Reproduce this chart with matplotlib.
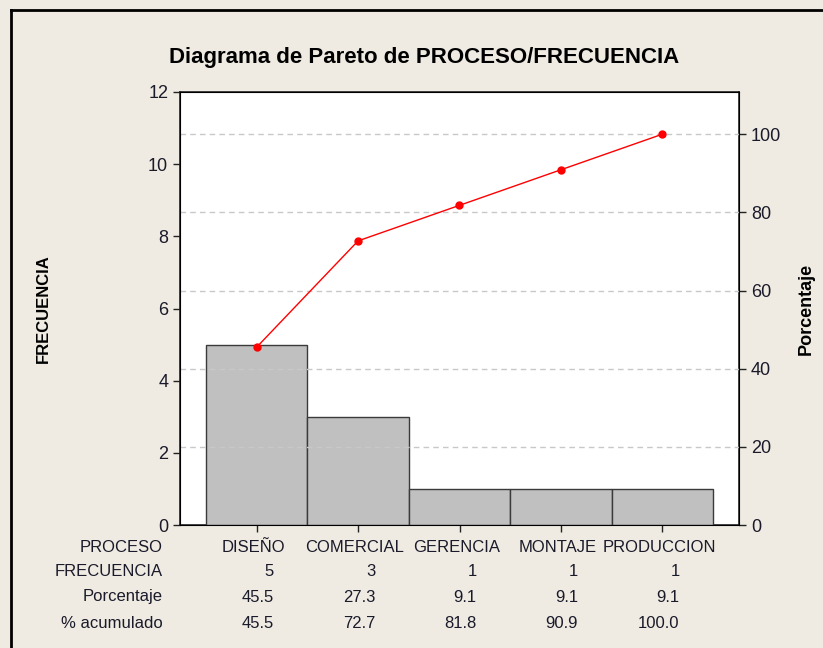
import matplotlib.pyplot as plt
import numpy as np
from matplotlib.transforms import blended_transform_factory
from matplotlib.lines import Line2D

# data
procesos = ["DISEÑO", "COMERCIAL", "GERENCIA", "MONTAJE", "PRODUCCION"]
frecuencia = [5, 3, 1, 1, 1]
porcentaje = [45.5, 27.3, 9.1, 9.1, 9.1]
acumulado = [45.5, 72.7, 81.8, 90.9, 100.0]
row_labels = ["PROCESO", "FRECUENCIA", "Porcentaje", "% acumulado"]

plt.rcParams["font.family"] = ["Liberation Sans", "DejaVu Sans"]
plt.rcParams["font.size"] = 12

bg = "#EFEBE2"
txt = "#1A1A2A"

fig = plt.figure(figsize=(8.23, 6.48), dpi=100, facecolor=bg)
ax = fig.add_axes([180 / 823, 123 / 648, 559 / 823, 433 / 648])
ax.set_facecolor("white")

x = np.arange(len(procesos))
ax.bar(x, frecuencia, width=1.0, color="#C0C0C0", edgecolor="#3A3A3A", linewidth=1.0, zorder=3)
ax.set_xlim(-0.756, 4.756)
ax.set_ylim(0, 12)
ax.set_yticks(np.arange(0, 13, 2))
ax.set_xticks(x)
ax.set_xticklabels([])
ax.tick_params(axis="both", direction="out", length=5, width=1, colors="#222222", labelsize=13)
ax.tick_params(axis="y", labelcolor=txt)
for s in ax.spines.values():
    s.set_color("#222222")
    s.set_linewidth(1.2)
ax.set_ylabel("FRECUENCIA", fontsize=12, fontweight="bold", labelpad=70, color="black")

ax2 = ax.twinx()
ax2.set_ylim(0, 110.8)
ax2.set_yticks(np.arange(0, 101, 20))
ax2.tick_params(axis="y", direction="out", length=5, width=1, colors="#222222", labelsize=13, labelcolor=txt)
for v in range(20, 101, 20):
    ax2.axhline(v, color="#C8C8C8", linestyle=(0, (4, 3)), linewidth=1.0, zorder=0)
ax2.plot(x, acumulado, color="red", linewidth=1.0, marker="o", markersize=5, zorder=5)
ax2.set_ylabel("Porcentaje", fontsize=13, fontweight="bold", labelpad=12, color="black")
ax.set_zorder(ax2.get_zorder() - 1)
ax2.patch.set_visible(False)

fig.text(424 / 823, 1 - 57 / 648, "Diagrama de Pareto de PROCESO/FRECUENCIA",
         ha="center", va="center", fontsize=16, fontweight="bold", color="black")

# table below the chart
tr = blended_transform_factory(ax.transData, fig.transFigure)
rows_y = [1 - 547 / 648, 1 - 572 / 648, 1 - 597 / 648, 1 - 624 / 648]
for lab, yy in zip(row_labels, rows_y):
    fig.text(163 / 823, yy, lab, ha="right", va="center", fontsize=12, color=txt)
for i in range(len(procesos)):
    ax.text(x[i] - 0.03, rows_y[0], procesos[i], transform=tr, ha="center", va="center", fontsize=12, color=txt)
    ax.text(x[i] + 0.17, rows_y[1], f"{frecuencia[i]}", transform=tr, ha="right", va="center", fontsize=12, color=txt)
    ax.text(x[i] + 0.17, rows_y[2], f"{porcentaje[i]:.1f}", transform=tr, ha="right", va="center", fontsize=12, color=txt)
    ax.text(x[i] + 0.17, rows_y[3], f"{acumulado[i]:.1f}", transform=tr, ha="right", va="center", fontsize=12, color=txt)

# outer frame (top and left edges visible)
fig.add_artist(Line2D([11 / 823, 1], [1 - 10 / 648, 1 - 10 / 648], transform=fig.transFigure, color="black", linewidth=2))
fig.add_artist(Line2D([11 / 823, 11 / 823], [0, 1 - 10 / 648], transform=fig.transFigure, color="black", linewidth=2))

fig.savefig("out.png", dpi=100, facecolor=bg)
